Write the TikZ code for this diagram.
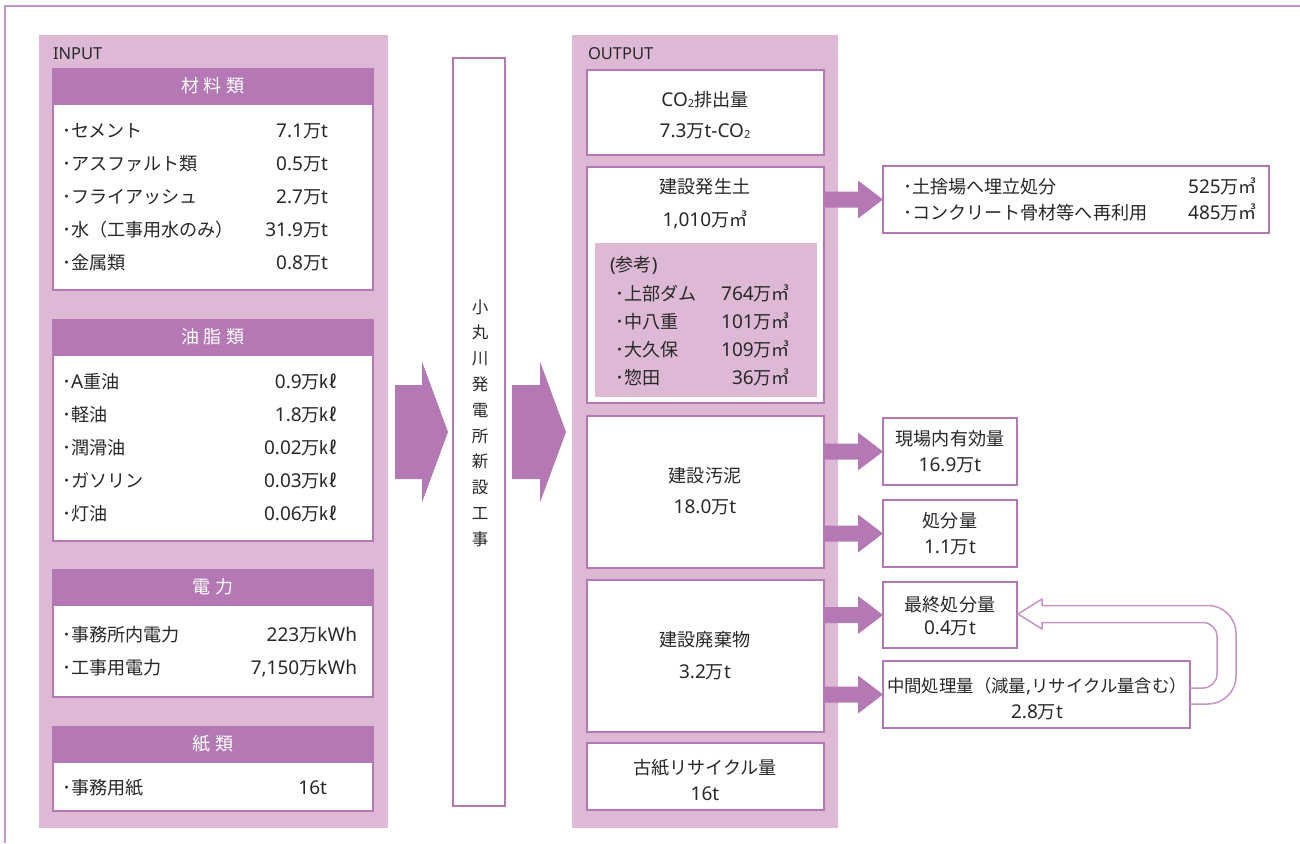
\documentclass[tikz,border=0pt]{standalone}
\usepackage{fontspec}
\setmainfont{Noto Sans CJK JP}
\newfontfamily\latf{Noto Sans}
\usetikzlibrary{calc}
\pgfdeclarelayer{bg}
\pgfsetlayers{bg,main}
\definecolor{purp}{RGB}{180,121,180}
\definecolor{pinkbg}{RGB}{221,185,214}
\definecolor{framec}{RGB}{196,150,196}
\definecolor{txtc}{RGB}{40,40,40}
\newcommand\la[1]{{\fontsize{19}{21}\selectfont\latf #1}}
\newcommand\cotwo{{\fontsize{19}{21}\selectfont\latf CO\raisebox{-1pt}{\fontsize{11}{11}\selectfont 2}}}
\newcommand\fatarrow[5]{\fill[purp] ($(#1)+(0,-#3)$) -- ($(#2)+(-#5,-#3)$) -- ($(#2)+(-#5,-#4)$) -- (#2) -- ($(#2)+(-#5,#4)$) -- ($(#2)+(-#5,#3)$) -- ($(#1)+(0,#3)$) -- cycle;}
\tikzset{
  panel/.style={fill=pinkbg, draw=none, anchor=north west, inner sep=0pt, outer sep=0pt},
  wbox/.style={fill=white, draw=purp, line width=2.4pt, anchor=north west, inner sep=0pt, outer sep=0pt},
  refbox/.style={fill=pinkbg, draw=none, anchor=north west, inner sep=0pt, outer sep=0pt},
  txt/.style={text=txtc, font=\fontsize{18.1}{21}\selectfont, inner sep=0pt, outer sep=0pt, text height=15.5pt, text depth=2.6pt},
  hdr/.style={fill=purp, draw=purp, line width=2.4pt, anchor=north west, inner sep=0pt, outer sep=0pt, text=white, font=\fontsize{18}{21}\selectfont, text height=15.5pt, text depth=2.6pt},
  lbl/.style={txt, anchor=west},
  val/.style={txt, anchor=east},
  ctr/.style={txt, anchor=center},
  ret/.style={draw=framec, line width=1.5pt, line cap=round, line join=round}
}
\begin{document}
\begin{tikzpicture}[x=1pt,y=-1pt]
\useasboundingbox (0,0) rectangle (1300,843);
\begin{pgfonlayer}{bg}
\draw[framec, line width=2.6pt] (5,843) -- (5,6) -- (1300,6);
\node[panel, minimum width=349pt, minimum height=793pt] (inpanel) at (39,35) {};
\node[panel, minimum width=266pt, minimum height=793pt] (outpanel) at (572,35) {};
\end{pgfonlayer}

% INPUT side
\node[lbl, font=\fontsize{16.5}{20}\selectfont\latf] (intitle) at (53,53) {INPUT};
\node[wbox, minimum width=320pt, minimum height=221pt] (mat) at (53,69) {};
\node[hdr, minimum width=320pt, minimum height=35pt] (matH) at (53,69) {材\hspace{5pt}料\hspace{5pt}類};
\node[wbox, minimum width=320pt, minimum height=221pt] (oil) at (53,320) {};
\node[hdr, minimum width=320pt, minimum height=35pt] (oilH) at (53,320) {油\hspace{5pt}脂\hspace{5pt}類};
\node[wbox, minimum width=320pt, minimum height=127pt] (elec) at (53,570) {};
\node[hdr, minimum width=320pt, minimum height=35pt] (elecH) at (53,570) {電\hspace{6pt}力};
\node[wbox, minimum width=320pt, minimum height=84pt] (paper) at (53,727) {};
\node[hdr, minimum width=320pt, minimum height=35pt] (paperH) at (53,727) {紙\hspace{6pt}類};

\node[lbl] (m1) at (62,131) {･セメント};
\node[val] (v1) at (328,131) {\la{7.1}万\la{t}};
\node[lbl] (m2) at (62,164) {･アスファルト類};
\node[val] (v2) at (328,164) {\la{0.5}万\la{t}};
\node[lbl] (m3) at (62,197) {･フライアッシュ};
\node[val] (v3) at (328,197) {\la{2.7}万\la{t}};
\node[lbl] (m4) at (62,230) {･水（工事用水のみ）};
\node[val] (v4) at (328,230) {\la{31.9}万\la{t}};
\node[lbl] (m5) at (62,263) {･金属類};
\node[val] (v5) at (328,263) {\la{0.8}万\la{t}};

\node[lbl] (o1) at (62,382) {･\la{A}重油};
\node[val] (w1) at (338,382) {\la{0.9}万㎘};
\node[lbl] (o2) at (62,415) {･軽油};
\node[val] (w2) at (338,415) {\la{1.8}万㎘};
\node[lbl] (o3) at (62,448) {･潤滑油};
\node[val] (w3) at (338,448) {\la{0.02}万㎘};
\node[lbl] (o4) at (62,481) {･ガソリン};
\node[val] (w4) at (338,481) {\la{0.03}万㎘};
\node[lbl] (o5) at (62,514) {･灯油};
\node[val] (w5) at (338,514) {\la{0.06}万㎘};

\node[lbl] (e1) at (62,635) {･事務所内電力};
\node[val] (x1) at (357,635) {\la{223}万\la{kWh}};
\node[lbl] (e2) at (62,668) {･工事用電力};
\node[val] (x2) at (357,668) {\la{7,150}万\la{kWh}};

\node[lbl] (p1) at (62,788) {･事務用紙};
\node[val] (y1) at (327,788) {\la{16t}};

% center
\node[wbox, minimum width=52pt, minimum height=748pt] (center) at (453,58) {};
\node[text=txtc, font=\fontsize{16.5}{25.8}\selectfont, align=center, inner sep=0pt] (vt) at (480,423) {小\\丸\\川\\発\\電\\所\\新\\設\\工\\事};

% OUTPUT side
\node[lbl, font=\fontsize{16.5}{20}\selectfont\latf] (outtitle) at (588,53) {OUTPUT};
\node[wbox, minimum width=237pt, minimum height=85pt] (co2) at (587,70) {};
\node[wbox, minimum width=237pt, minimum height=236pt] (hassei) at (587,167) {};
\node[refbox, minimum width=222pt, minimum height=154pt] (ref) at (595,243) {};
\node[wbox, minimum width=237pt, minimum height=152pt] (odei) at (587,416) {};
\node[wbox, minimum width=237pt, minimum height=152pt] (haiki) at (587,580) {};
\node[wbox, minimum width=237pt, minimum height=67pt] (koshi) at (587,743) {};

\node[ctr] (c1) at (705,100) {\cotwo 排出量};
\node[ctr] (c2) at (705,131) {\la{7.3}万\la{t-}\cotwo};
\node[ctr] (h1) at (705,187) {建設発生土};
\node[ctr] (h2) at (705,220) {\la{1,010}万㎥};
\node[lbl] (r0) at (610,265) {\la{(}参考\la{)}};
\node[lbl] (r1) at (615,294) {･上部ダム};
\node[val] (s1) at (790,294) {\la{764}万㎥};
\node[lbl] (r2) at (615,322) {･中八重};
\node[val] (s2) at (790,322) {\la{101}万㎥};
\node[lbl] (r3) at (615,350) {･大久保};
\node[val] (s3) at (790,350) {\la{109}万㎥};
\node[lbl] (r4) at (615,378) {･惣田};
\node[val] (s4) at (790,378) {\la{36}万㎥};
\node[ctr] (d1) at (705,476) {建設汚泥};
\node[ctr] (d2) at (705,507) {\la{18.0}万\la{t}};
\node[ctr] (k1) at (705,640) {建設廃棄物};
\node[ctr] (k2) at (705,672) {\la{3.2}万\la{t}};
\node[ctr] (g1) at (705,768) {古紙リサイクル量};
\node[ctr] (g2) at (705,794) {\la{16t}};

% right boxes
\node[wbox, minimum width=386pt, minimum height=67pt] (tsuchi) at (883,166) {};
\node[wbox, minimum width=134pt, minimum height=67pt] (genba) at (883,418) {};
\node[wbox, minimum width=134pt, minimum height=67pt] (shobun) at (883,500) {};
\node[wbox, minimum width=134pt, minimum height=66pt] (saishu) at (883,582) {};
\node[wbox, minimum width=307pt, minimum height=67pt] (chukan) at (883,661) {};

\node[lbl] (t1) at (903,187) {･土捨場へ埋立処分};
\node[val] (u1) at (1257,187) {\la{525}万㎥};
\node[lbl] (t2) at (903,213) {･コンクリート骨材等へ再利用};
\node[val] (u2) at (1257,213) {\la{485}万㎥};
\node[ctr] (gb1) at (950,439) {現場内有効量};
\node[ctr] (gb2) at (950,465) {\la{16.9}万\la{t}};
\node[ctr] (sb1) at (950,521) {処分量};
\node[ctr] (sb2) at (950,547) {\la{1.1}万\la{t}};
\node[ctr] (ss1) at (950,605) {最終処分量};
\node[ctr] (ss2) at (950,628) {\la{0.4}万\la{t}};
\node[ctr, font=\fontsize{17.4}{21}\selectfont] (ch1) at (1037,686) {中間処理量（減量\la{,}リサイクル量含む）};
\node[ctr] (ch2) at (1037,712) {\la{2.8}万\la{t}};

% big arrows
\coordinate (a1s) at ($(inpanel.east)+(7,0.5)$);
\coordinate (a1e) at ($(center.west |- a1s)+(-5,0)$);
\coordinate (a2s) at ($(center.east |- a1s)+(7,0)$);
\coordinate (a2e) at ($(outpanel.west |- a1s)+(-6,0)$);
\begin{pgfonlayer}{bg}
\fatarrow{a1s}{a1e}{47}{70.5}{26}
\fatarrow{a2s}{a2e}{47}{70.5}{26}
\fatarrow{hassei.east |- tsuchi.west}{tsuchi.west}{8}{19}{25}
\fatarrow{odei.east |- genba.west}{genba.west}{8}{19}{25}
\fatarrow{odei.east |- shobun.west}{shobun.west}{8}{19}{25}
\fatarrow{haiki.east |- saishu.west}{saishu.west}{8}{19}{25}
\fatarrow{haiki.east |- chukan.west}{chukan.west}{8}{19}{25}
\end{pgfonlayer}

% return arrow
\coordinate (rtip) at ($(saishu.east)+(1,-1)$);
\draw[ret, rounded corners=28pt] ($(chukan.east)+(0,9.5)$) -- ($(chukan.east)+(46,9.5)$) -- ($(rtip)+(218,-8.5)$) -- ($(rtip)+(24,-8.5)$);
\draw[ret] ($(rtip)+(24,-8.5)$) -- ($(rtip)+(24,-15)$) -- (rtip) -- ($(rtip)+(24,15)$) -- ($(rtip)+(24,8.5)$);
\draw[ret, rounded corners=14pt] ($(rtip)+(24,8.5)$) -- ($(rtip)+(199,8.5)$) -- ($(chukan.east)+(27,-6.5)$) -- ($(chukan.east)+(0,-6.5)$);
\end{tikzpicture}
\end{document}
